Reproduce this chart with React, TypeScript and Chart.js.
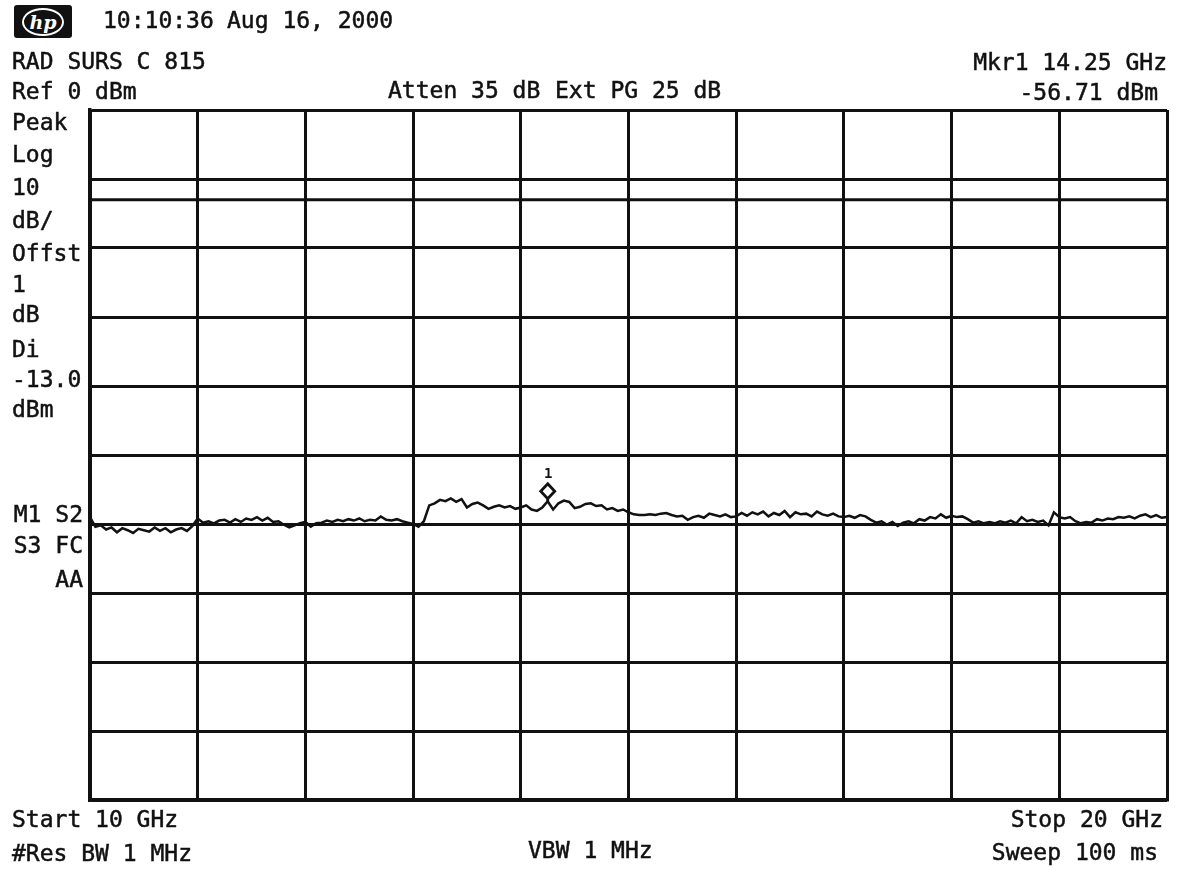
import React, { useEffect, useRef } from "react";
import { Chart, registerables } from "chart.js";

Chart.register(...registerables);

// Sweep settings
const START_GHZ = 10;
const STOP_GHZ = 20;
const REF_LEVEL_DBM = 0;
const DB_PER_DIV = 10;
const DIVISIONS = 10;

// Display line
const DISPLAY_LINE_DBM = -13;

// Marker 1
const MARKER_GHZ = 14.25;
const MARKER_DBM = -56.71;

// Peak trace, one reading every 0.05 GHz from start to stop
const TRACE_DBM = [
  // 10 GHz
  -59.0, -60.4, -60.2, -60.8, -60.5, -61.2, -60.6, -60.9, -61.3, -60.7,
  -60.9, -61.1, -60.5, -61.0, -60.6, -61.2, -60.8, -60.6, -61.0, -60.3,
  // 11 GHz
  -59.2, -59.8, -59.6, -59.9, -59.5, -59.4, -59.8, -59.3, -59.7, -59.2,
  -59.4, -59.0, -59.5, -59.1, -59.7, -59.6, -60.1, -60.5, -60.2, -59.9,
  // 12 GHz
  -59.7, -60.4, -59.9, -59.8, -59.5, -59.7, -59.4, -59.6, -59.3, -59.5,
  -59.2, -59.6, -59.4, -59.5, -58.9, -59.4, -59.5, -59.3, -59.6, -59.8,
  // 13 GHz
  -60.0, -60.4, -59.6, -57.3, -57.0, -56.5, -56.7, -56.3, -56.8, -56.4,
  -57.6, -57.1, -56.9, -57.3, -57.8, -57.5, -57.3, -57.6, -57.4, -57.8,
  // 14 GHz
  -57.6, -57.3, -57.9, -58.1, -57.6, -56.71, -57.9, -57.0, -56.6, -56.8,
  -57.7, -57.5, -57.1, -57.0, -57.4, -57.3, -57.9, -57.7, -58.1, -57.9,
  // 15 GHz
  -58.3, -58.6, -58.7, -58.7, -58.6, -58.7, -58.5, -58.4, -58.7, -58.9,
  -58.8, -59.4, -59.0, -58.8, -59.1, -58.5, -58.7, -58.9, -58.6, -59.0,
  // 16 GHz
  -58.9, -58.4, -58.8, -58.3, -58.6, -58.2, -58.9, -58.4, -58.7, -58.1,
  -59.0, -58.3, -58.6, -58.5, -58.9, -58.2, -58.6, -58.8, -58.5, -58.9,
  // 17 GHz
  -59.0, -58.8, -59.1, -58.7, -58.9, -59.4, -59.8, -59.6, -60.1, -59.7,
  -60.3, -59.8, -59.6, -59.9, -59.3, -59.5, -59.0, -59.2, -58.6, -59.1,
  // 18 GHz
  -58.8, -59.0, -58.9, -59.3, -59.8, -59.6, -59.9, -59.7, -59.9, -59.6,
  -59.8, -59.5, -59.9, -59.0, -59.6, -59.4, -59.7, -59.5, -60.2, -58.3,
  // 19 GHz
  -59.0, -59.2, -59.0, -59.6, -59.9, -59.7, -59.8, -59.3, -59.5, -59.2,
  -59.3, -59.0, -59.1, -58.9, -59.2, -58.8, -58.6, -59.0, -58.7, -59.1,
  // 20 GHz
  -59.0,
];

const INK = "#111";
const FONT = "'DejaVu Sans Mono', 'Liberation Mono', monospace";
const FONT_PX = 23;

const tracePoints = TRACE_DBM.map((v, i) => ({
  x: START_GHZ + ((STOP_GHZ - START_GHZ) * i) / (TRACE_DBM.length - 1),
  y: v,
}));

// Diamond marker with a short stem down to the trace point
const markerPlugin = {
  id: "markerDiamond",
  afterDatasetsDraw(chart: any) {
    const { ctx, scales } = chart;
    const px = scales.x.getPixelForValue(MARKER_GHZ);
    const py = scales.y.getPixelForValue(MARKER_DBM);
    const hw = 7;
    const hh = 7.5;
    const cy = py - 10;
    ctx.save();
    ctx.lineWidth = 2.8;
    ctx.strokeStyle = INK;
    ctx.beginPath();
    ctx.moveTo(px, cy + hh);
    ctx.lineTo(px, py);
    ctx.stroke();
    ctx.beginPath();
    ctx.moveTo(px, cy - hh);
    ctx.lineTo(px + hw, cy);
    ctx.lineTo(px, cy + hh);
    ctx.lineTo(px - hw, cy);
    ctx.closePath();
    ctx.fillStyle = "#fff";
    ctx.fill();
    ctx.stroke();
    ctx.restore();
  },
};

type LabelProps = {
  text: string;
  base: number;
  left?: number;
  right?: number;
  size?: number;
  bold?: boolean;
};

function Label({ text, base, left, right, size = FONT_PX, bold }: LabelProps) {
  const style: React.CSSProperties = {
    position: "absolute",
    top: base - size * 0.846,
    fontFamily: FONT,
    fontSize: size,
    lineHeight: `${size}px`,
    whiteSpace: "pre",
    color: INK,
    fontWeight: bold ? 700 : 400,
    WebkitTextStroke: bold ? "0px" : `0.5px ${INK}`,
  };
  if (left !== undefined) style.left = left;
  if (right !== undefined) style.right = 1179 - right;
  return <div style={style}>{text}</div>;
}

const SIDE_LABELS: [string, number][] = [
  ["Peak", 130],
  ["Log", 162],
  ["10", 195],
  ["dB/", 228],
  ["Offst", 261],
  ["1", 292],
  ["dB", 322],
  ["Di", 357],
  ["-13.0", 387],
  ["dBm", 417],
];

export default function App() {
  const canvasRef = useRef<HTMLCanvasElement | null>(null);

  useEffect(() => {
    if (!canvasRef.current) return;
    const chart = new Chart(canvasRef.current, {
      type: "line",
      data: {
        datasets: [
          {
            data: tracePoints,
            borderColor: INK,
            borderWidth: 2.5,
            pointRadius: 0,
            tension: 0,
          },
          {
            data: [
              { x: START_GHZ, y: DISPLAY_LINE_DBM },
              { x: STOP_GHZ, y: DISPLAY_LINE_DBM },
            ],
            borderColor: INK,
            borderWidth: 3,
            pointRadius: 0,
          },
        ],
      },
      options: {
        animation: false,
        responsive: false,
        devicePixelRatio: 1,
        layout: { padding: { left: 90, top: 110, right: 12, bottom: 69 } },
        plugins: {
          legend: { display: false },
          tooltip: { enabled: false },
        },
        scales: {
          x: {
            type: "linear",
            min: START_GHZ,
            max: STOP_GHZ,
            ticks: { display: false, stepSize: (STOP_GHZ - START_GHZ) / DIVISIONS },
            grid: { color: INK, lineWidth: 3, drawTicks: false },
            border: { display: true, color: INK, width: 3.5 },
          },
          y: {
            type: "linear",
            min: REF_LEVEL_DBM - DB_PER_DIV * DIVISIONS,
            max: REF_LEVEL_DBM,
            ticks: { display: false, stepSize: DB_PER_DIV },
            grid: { color: INK, lineWidth: 3, drawTicks: false },
            border: { display: true, color: INK, width: 3.5 },
          },
        },
      },
      plugins: [markerPlugin],
    });
    return () => chart.destroy();
  }, []);

  return (
    <div
      style={{
        position: "absolute",
        left: 0,
        top: 0,
        width: 1179,
        height: 869,
        background: "#fff",
        overflow: "hidden",
      }}
    >
      <canvas
        ref={canvasRef}
        width={1179}
        height={869}
        style={{ position: "absolute", left: 0, top: 0 }}
      />
      {/* hp badge */}
      <div
        style={{
          position: "absolute",
          left: 14,
          top: 5,
          width: 58,
          height: 33,
          background: INK,
          borderRadius: 3,
          display: "flex",
          alignItems: "center",
          justifyContent: "center",
        }}
      >
        <div
          style={{
            border: "2px solid #fff",
            borderRadius: "50%",
            width: 38,
            height: 24,
            display: "flex",
            alignItems: "center",
            justifyContent: "center",
            color: "#fff",
            fontFamily: "'DejaVu Serif', serif",
            fontStyle: "italic",
            fontWeight: 700,
            fontSize: 19,
            lineHeight: "20px",
          }}
        >
          hp
        </div>
      </div>
      <Label text="10:10:36" left={103} base={28} />
      <Label text="Aug 16, 2000" left={227} base={28} />
      <Label text="RAD SURS C 815" left={12} base={69} />
      <Label text="Ref 0 dBm" left={12} base={99} />
      <Label text="Atten 35 dB" left={388} base={98} />
      <Label text="Ext PG 25 dB" left={555} base={98} />
      <Label text="Mkr1 14.25 GHz" right={1167} base={70} />
      <Label text="-56.71 dBm" right={1158} base={100} />
      {SIDE_LABELS.map(([t, b]) => (
        <Label key={t + b} text={t} left={12} base={b} />
      ))}
      <Label text="M1 S2" right={83} base={522} />
      <Label text="S3 FC" right={83} base={553} />
      <Label text="AA" right={83} base={587} />
      <Label text="1" left={544} base={478} size={14} bold />
      <Label text="Start 10 GHz" left={12} base={827} />
      <Label text="#Res BW 1 MHz" left={12} base={861} />
      <Label text="VBW 1 MHz" left={528} base={858} />
      <Label text="Stop 20 GHz" right={1163} base={827} />
      <Label text="Sweep 100 ms" right={1158} base={860} />
    </div>
  );
}
